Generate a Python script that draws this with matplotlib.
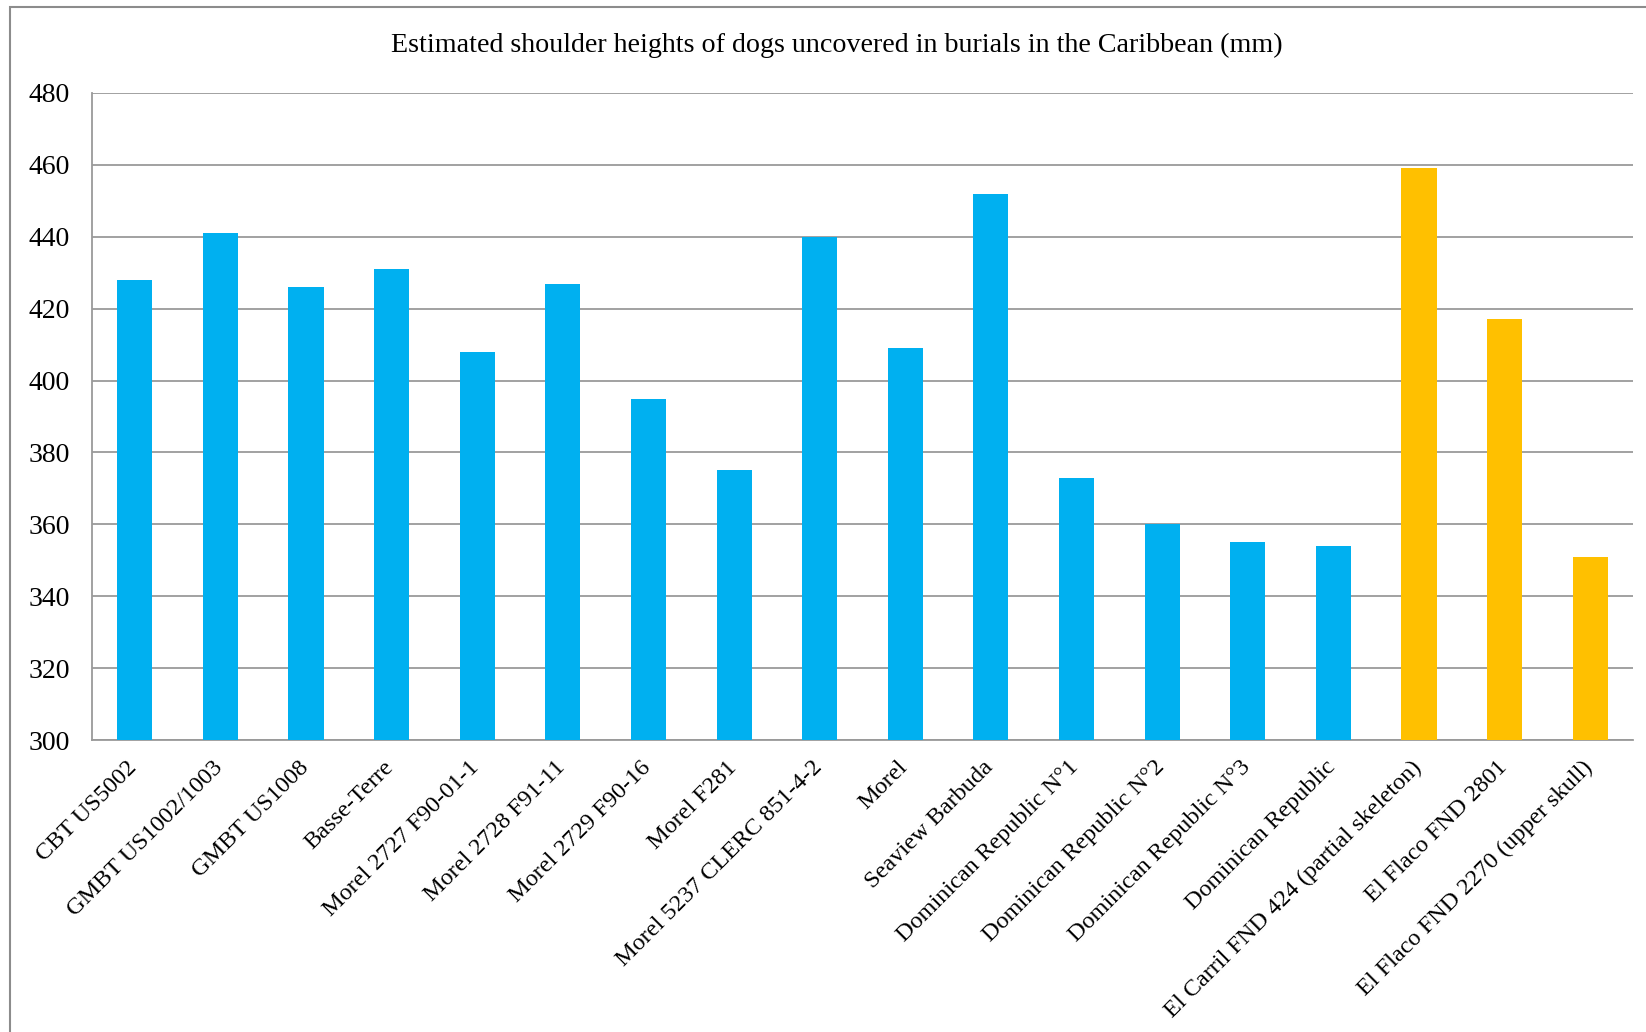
import matplotlib.pyplot as plt
from matplotlib.patches import Rectangle
from matplotlib.transforms import ScaledTranslation

plt.rcParams['font.family'] = ['Liberation Serif', 'DejaVu Serif']

sites = [
    'CBT US5002', 'GMBT US1002/1003', 'GMBT US1008', 'Basse-Terre',
    'Morel 2727 F90-01-1', 'Morel 2728 F91-11', 'Morel 2729 F90-16',
    'Morel F281', 'Morel 5237 CLERC 851-4-2', 'Morel', 'Seaview Barbuda',
    'Dominican Republic N°1', 'Dominican Republic N°2',
    'Dominican Republic N°3', 'Dominican Republic',
    'El Carril FND 424 (partial skeleton)', 'El Flaco FND 2801',
    'El Flaco FND 2270 (upper skull)',
]
heights = [428, 441, 426, 431, 408, 427, 395, 375, 440, 409, 452,
           373, 360, 355, 354, 459, 417, 351]
group = ['blue'] * 15 + ['gold'] * 3

palette = {'blue': '#00B0F0', 'gold': '#FFC000'}
colors = [palette[g] for g in group]

fig = plt.figure(figsize=(16.46, 10.32), dpi=100)
ax = fig.add_axes([0.0559, 0.2829, 0.9362, 0.627])

x = range(len(sites))
ax.bar(x, heights, width=0.41, color=colors, zorder=3)

ax.set_ylim(300, 480)
ax.set_yticks(range(300, 481, 20))
ax.set_xlim(-0.5, len(sites) - 0.5)
ax.set_xticks(list(x))
ax.tick_params(axis='both', length=0)
ax.tick_params(axis='y', labelsize=20, pad=16)
ax.tick_params(axis='x', pad=10)
ax.set_xticklabels(sites, rotation=45, ha='right', va='top',
                   rotation_mode='anchor', fontsize=17.5)

# small nudge so the slanted labels end just under each bar
shift = ScaledTranslation(-6 / 72, -2 / 72, fig.dpi_scale_trans)
for lab in ax.get_xticklabels():
    lab.set_transform(lab.get_transform() + shift)

ax.yaxis.grid(True, color='#9A9A9A', linewidth=1.3, zorder=0)
for side in ['top', 'right']:
    ax.spines[side].set_visible(False)
for side in ['left', 'bottom']:
    ax.spines[side].set_color('#9A9A9A')
    ax.spines[side].set_linewidth(1.3)

# chart frame, running off the right and bottom edges
fig.patches.append(Rectangle((10 / 1646, -0.1), 1.2, 1 - 7 / 1032 + 0.1,
                             transform=fig.transFigure, fill=False,
                             edgecolor='#8C8C8C', linewidth=1.5))

fig.text(0.5085, 1 - 45 / 1032, 'Estimated shoulder heights of dogs uncovered in burials in the Caribbean (mm)',
         ha='center', va='center', fontsize=20.2)

fig.savefig('out.png', dpi=100)
